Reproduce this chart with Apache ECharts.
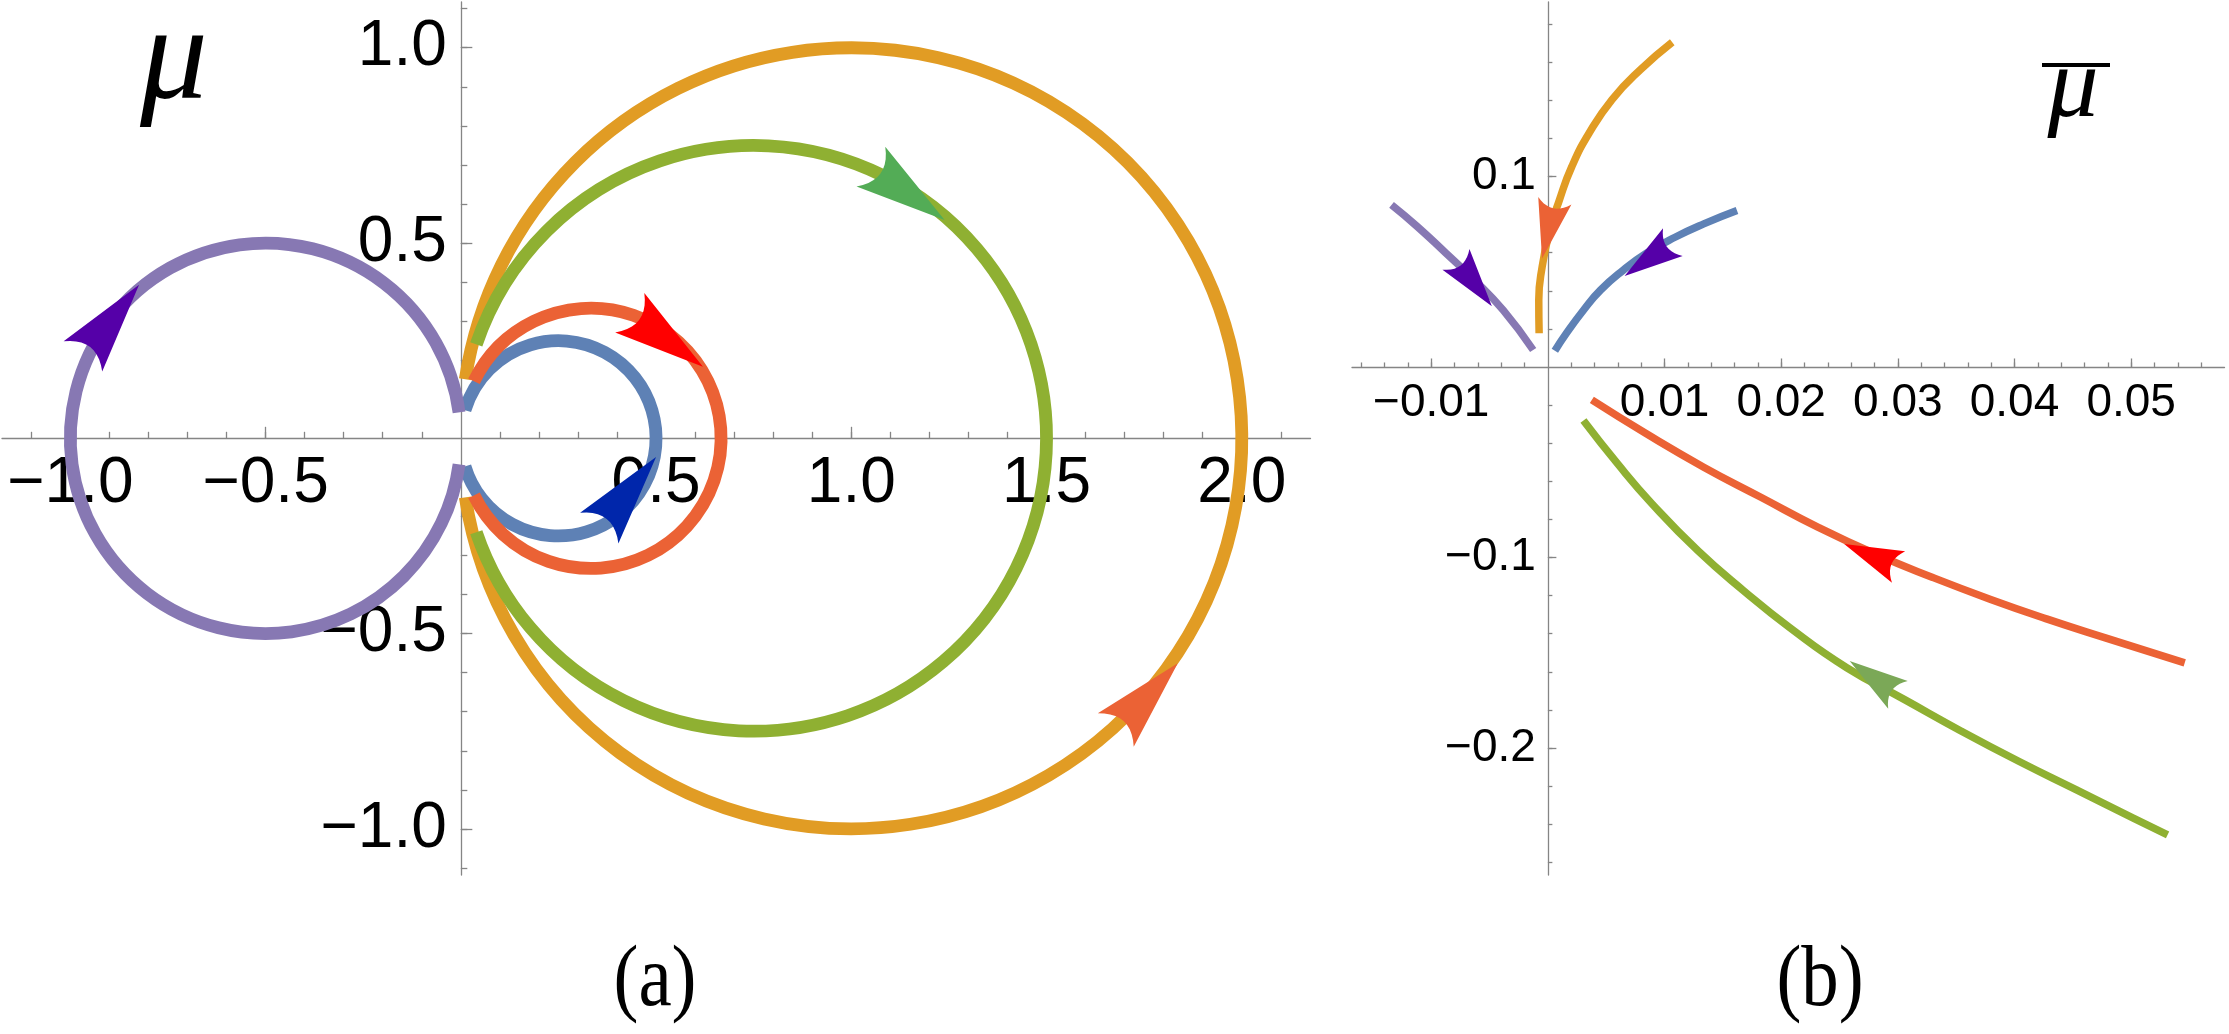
<!DOCTYPE html>
<html><head><meta charset="utf-8">
<script src="https://cdn.jsdelivr.net/npm/echarts@6/dist/echarts.min.js"></script>
<style>html,body{margin:0;padding:0;background:#fff}#c{width:2229px;height:1034px}</style>
</head><body><div id="c"></div>
<script>
// ===== Panel (a): circular trajectories through the origin =====
const seriesNames = ['blue', 'orange', 'green', 'red', 'purple'];
const lineColors = ['#5E81B5', '#E19C24', '#8FB032', '#EB6235', '#8778B3'];
const circleCenterX = [0.25, 1.0, 0.75, 0.3333, -0.5];
const circleRadius = [0.25, 1.0, 0.75, 0.3333, 0.5];
const arcStartDeg = [-163.3, -171.3, -161.3, -154.0, 7.65];   // counter-clockwise from start to end
const arcEndDeg = [163.3, 171.3, 161.3, 154.0, 352.35];
// arrowheads in panel (a): [tail point, tip point] in data units
const arrowTailA = [[0.357, -0.227], [1.677, -0.747], [1.051, 0.695], [0.432, 0.322], [-0.969, 0.208]];
const arrowTipA = [[0.500, -0.048], [1.836, -0.576], [1.239, 0.559], [0.620, 0.183], [-0.824, 0.393]];
const arrowColorsA = ['#0026AB', '#EB6235', '#53AC56', '#FF0000', '#5500A8'];

// ===== Panel (b): trajectories near the origin =====
const blueBX = [0.01621, 0.01336, 0.0109, 0.00845, 0.00648, 0.00452, 0.00305, 0.00158, 0.0006];
const blueBY = [0.0821, 0.0751, 0.0681, 0.0597, 0.0509, 0.0404, 0.0298, 0.0176, 0.0085];
const orangeBX = [0.01066, 0.00795, 0.0055, 0.00354, 0.00206, 0.00099, 0.0001, -0.00049, -0.00078, -0.00075];
const orangeBY = [0.1705, 0.1562, 0.1404, 0.1228, 0.1053, 0.0877, 0.0702, 0.0526, 0.0351, 0.0177];
const greenBX = [0.00305, 0.00599, 0.00894, 0.01287, 0.01679, 0.02072, 0.02562, 0.03054, 0.03545, 0.04036, 0.04527, 0.05018, 0.05312];
const greenBY = [-0.0281, -0.0509, -0.0719, -0.0965, -0.1175, -0.1368, -0.1579, -0.1745, -0.1912, -0.207, -0.2219, -0.2368, -0.2456];
const redBX = [0.00377, 0.00845, 0.01336, 0.01826, 0.02318, 0.02808, 0.03299, 0.0379, 0.04281, 0.04772, 0.05459];
const redBY = [-0.0173, -0.0351, -0.0526, -0.0684, -0.0842, -0.0982, -0.1105, -0.1219, -0.1324, -0.1421, -0.1553];
const purpleBX = [-0.0134, -0.01119, -0.00873, -0.00628, -0.00383, -0.00126];
const purpleBY = [0.0851, 0.0737, 0.0597, 0.0456, 0.0298, 0.0089];
const arrowTailB = [[0.0107, 0.0655], [0.0006, 0.0873], [0.02955, -0.1702], [0.03017, -0.1053], [-0.00792, 0.0568]];
const arrowTipB = [[0.00658, 0.0477], [-0.0005, 0.057], [0.02587, -0.1544], [0.0254, -0.093], [-0.0048, 0.0319]];
const arrowColorsB = ['#5500A8', '#EB6235', '#7BA857', '#FF0000', '#5500A8'];

// ===== Ticks and labels =====
const aXTicks = [-1.1,-1.0,-0.9,-0.8,-0.7,-0.6,-0.5,-0.4,-0.3,-0.2,-0.1,0.1,0.2,0.3,0.4,0.5,0.6,0.7,0.8,0.9,1.0,1.1,1.2,1.3,1.4,1.5,1.6,1.7,1.8,1.9,2.0,2.1];
const aXMajor = [-1.0, -0.5, 0.5, 1.0, 1.5, 2.0];
const aYTicks = [-1.1,-1.0,-0.9,-0.8,-0.7,-0.6,-0.5,-0.4,-0.3,-0.2,-0.1,0.1,0.2,0.3,0.4,0.5,0.6,0.7,0.8,0.9,1.0,1.1];
const aYMajor = [-1.0, -0.5, 0.5, 1.0];
const bXTicks = [-0.016,-0.014,-0.012,-0.01,-0.008,-0.006,-0.004,-0.002,0.002,0.004,0.006,0.008,0.01,0.012,0.014,0.016,0.018,0.02,0.022,0.024,0.026,0.028,0.03,0.032,0.034,0.036,0.038,0.04,0.042,0.044,0.046,0.048,0.05,0.052,0.054,0.056];
const bXMajor = [-0.01, 0.01, 0.02, 0.03, 0.04, 0.05];
const bYTicks = [-0.26,-0.24,-0.22,-0.2,-0.18,-0.16,-0.14,-0.12,-0.1,-0.08,-0.06,-0.04,-0.02,0.02,0.04,0.06,0.08,0.1,0.12,0.14,0.16,0.18];
const bYMajor = [-0.2, -0.1, 0.1];

// axis ranges
const aXRange = [-1.175, 2.176], aYRange = [-1.118, 1.117];
const bXRange = [-0.01679, 0.058], bYRange = [-0.2667, 0.1916];

// layout
const gridA = { left: 2, top: 2, width: 1308.5, height: 873 };
const gridB = { left: 1352, top: 2, width: 872.5, height: 873 };

const AXIS_COLOR = '#858585';
const TICK_FONT = '"Liberation Sans", Arial, sans-serif';
const fmt = d => v => (v < 0 ? '\u2212' : '') + Math.abs(v).toFixed(d);

// distance (px) from the low end of an axis (bottom / left grid edge) to its zero
function zeroShift(range, size) { return size * (0 - range[0]) / (range[1] - range[0]); }

function mkAxis(opt) {
  return {
    type: 'value', gridIndex: opt.grid, min: opt.range[0], max: opt.range[1], position: opt.pos,
    offset: opt.offset,
    splitLine: { show: false },
    axisLine: { show: opt.main, onZero: false, lineStyle: { color: AXIS_COLOR, width: 1.3 } },
    axisTick: { show: true, inside: true, length: opt.tickLen, customValues: opt.ticks,
      lineStyle: { color: AXIS_COLOR, width: 1.3 } },
    axisLabel: opt.main ? { show: true, customValues: opt.labels, formatter: opt.fmt,
      color: '#000', fontSize: opt.fs, fontFamily: TICK_FONT, margin: opt.margin } : { show: false }
  };
}

const chart = echarts.init(document.getElementById('c'), null, { renderer: 'canvas' });

function arrowPolygon(tail, tip, L, W) {
  const dx = tip[0] - tail[0], dy = tip[1] - tail[1], d = Math.hypot(dx, dy) || 1;
  const ux = dx / d, uy = dy / d, nx = -uy, ny = ux;
  const bx = tip[0] - ux * L, by = tip[1] - uy * L;
  const b1 = [bx + nx * W / 2, by + ny * W / 2], b2 = [bx - nx * W / 2, by - ny * W / 2];
  const c = [bx + ux * L * 0.26, by + uy * L * 0.26];
  const pts = [tip, b1];
  for (let i = 1; i < 10; i++) {
    const t = i / 10, a = (1 - t) * (1 - t), b = 2 * t * (1 - t), e = t * t;
    pts.push([a * b1[0] + b * c[0] + e * b2[0], a * b1[1] + b * c[1] + e * b2[1]]);
  }
  pts.push(b2);
  return pts;
}

const series = [];
// arcs of panel (a)
for (let i = 0; i < seriesNames.length; i++) {
  series.push({
    type: 'custom', name: seriesNames[i] + ' (a)', xAxisIndex: 0, yAxisIndex: 0, clip: false, z: 3,
    data: [[circleCenterX[i], 0, circleRadius[i], arcStartDeg[i], arcEndDeg[i]]],
    renderItem: (function (col) {
      return function (params, api) {
        const c = api.coord([api.value(0), api.value(1)]);
        const r = api.size([api.value(2), 0])[0];
        return {
          type: 'arc',
          shape: { cx: c[0], cy: c[1], r: r,
            startAngle: -api.value(3) * Math.PI / 180, endAngle: -api.value(4) * Math.PI / 180, clockwise: false },
          style: { stroke: col, lineWidth: 12.8, fill: null, lineCap: 'butt' }
        };
      };
    })(lineColors[i])
  });
}
// arrows of panel (a)
series.push({
  type: 'custom', name: 'arrows (a)', xAxisIndex: 0, yAxisIndex: 0, clip: false, z: 5,
  data: arrowTailA.map((t, i) => [t[0], t[1], arrowTipA[i][0], arrowTipA[i][1]]),
  renderItem: function (params, api) {
    const tail = api.coord([api.value(0), api.value(1)]);
    const tip = api.coord([api.value(2), api.value(3)]);
    return { type: 'polygon', shape: { points: arrowPolygon(tail, tip, 91, 49) },
      style: { fill: arrowColorsA[params.dataIndex] } };
  }
});
// curves of panel (b)
const bX = [blueBX, orangeBX, greenBX, redBX, purpleBX];
const bY = [blueBY, orangeBY, greenBY, redBY, purpleBY];
for (let i = 0; i < seriesNames.length; i++) {
  series.push({
    type: 'line', name: seriesNames[i] + ' (b)', xAxisIndex: 2, yAxisIndex: 2, z: 3,
    data: bX[i].map((x, k) => [x, bY[i][k]]),
    smooth: true, symbol: 'none', showSymbol: false, clip: false,
    lineStyle: { color: lineColors[i], width: 7.5, cap: 'butt' }
  });
}
series.push({
  type: 'custom', name: 'arrows (b)', xAxisIndex: 2, yAxisIndex: 2, clip: false, z: 5,
  data: arrowTailB.map((t, i) => [t[0], t[1], arrowTipB[i][0], arrowTipB[i][1]]),
  renderItem: function (params, api) {
    const tail = api.coord([api.value(0), api.value(1)]);
    const tip = api.coord([api.value(2), api.value(3)]);
    return { type: 'polygon', shape: { points: arrowPolygon(tail, tip, 59, 34) },
      style: { fill: arrowColorsB[params.dataIndex] } };
  }
});

// negative offsets move the axes from the grid edges onto the zero lines
const offAX = -zeroShift(aYRange, gridA.height);
const offAY = -zeroShift(aXRange, gridA.width);
const offBX = -zeroShift(bYRange, gridB.height);
const offBY = -zeroShift(bXRange, gridB.width);

chart.setOption({
  animation: false,
  backgroundColor: '#fff',
  grid: [
    Object.assign({ containLabel: false, outerBoundsMode: 'none' }, gridA),
    Object.assign({ containLabel: false, outerBoundsMode: 'none' }, gridB)
  ],
  xAxis: [
    mkAxis({ grid: 0, range: aXRange, pos: 'bottom', offset: offAX, main: true, tickLen: 6.5, ticks: aXTicks, labels: aXMajor, fmt: fmt(1), fs: 64, margin: 14 }),
    mkAxis({ grid: 0, range: aXRange, pos: 'bottom', offset: offAX, main: false, tickLen: 11.5, ticks: aXMajor }),
    mkAxis({ grid: 1, range: bXRange, pos: 'bottom', offset: offBX, main: true, tickLen: 4.5, ticks: bXTicks, labels: bXMajor, fmt: fmt(2), fs: 46, margin: 13 }),
    mkAxis({ grid: 1, range: bXRange, pos: 'bottom', offset: offBX, main: false, tickLen: 8.5, ticks: bXMajor })
  ],
  yAxis: [
    mkAxis({ grid: 0, range: aYRange, pos: 'left', offset: offAY, main: true, tickLen: 6.5, ticks: aYTicks, labels: aYMajor, fmt: fmt(1), fs: 64, margin: 14 }),
    mkAxis({ grid: 0, range: aYRange, pos: 'left', offset: offAY, main: false, tickLen: 11.5, ticks: aYMajor }),
    mkAxis({ grid: 1, range: bYRange, pos: 'left', offset: offBY, main: true, tickLen: 4.5, ticks: bYTicks, labels: bYMajor, fmt: fmt(1), fs: 46, margin: 12 }),
    mkAxis({ grid: 1, range: bYRange, pos: 'left', offset: offBY, main: false, tickLen: 8.5, ticks: bYMajor })
  ],
  series: series,
  graphic: [
    { type: 'text', x: 174, y: 63, style: { text: '\u03BC', font: 'italic 135px "Liberation Serif", "DejaVu Serif", serif', fill: '#000', textAlign: 'center', textVerticalAlign: 'middle', align: 'center', verticalAlign: 'middle' } },
    { type: 'text', x: 2073, y: 89, style: { text: '\u03BC', font: 'italic 102px "Liberation Serif", "DejaVu Serif", serif', fill: '#000', textAlign: 'center', textVerticalAlign: 'middle', align: 'center', verticalAlign: 'middle' } },
    { type: 'line', shape: { x1: 2042, y1: 65, x2: 2110, y2: 65 }, style: { stroke: '#000', lineWidth: 4 } },
    { type: 'text', x: 655, y: 982, scaleX: 0.87, style: { text: '(a)', font: '86px "Liberation Serif", "DejaVu Serif", serif', fill: '#000', textAlign: 'center', textVerticalAlign: 'middle', align: 'center', verticalAlign: 'middle' } },
    { type: 'text', x: 1820, y: 982, scaleX: 0.87, style: { text: '(b)', font: '86px "Liberation Serif", "DejaVu Serif", serif', fill: '#000', textAlign: 'center', textVerticalAlign: 'middle', align: 'center', verticalAlign: 'middle' } }
  ]
});
</script>
</body></html>
